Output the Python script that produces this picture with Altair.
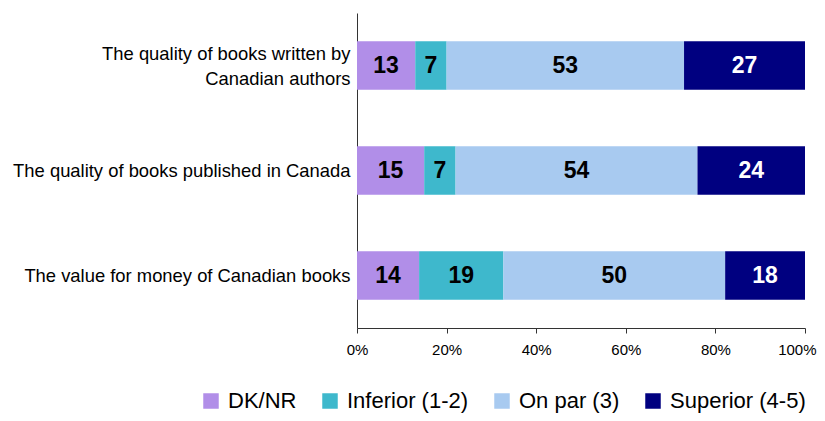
import altair as alt
import pandas as pd

categories = [
    "The quality of books written by Canadian authors",
    "The quality of books published in Canada",
    "The value for money of Canadian books",
]
series = ["DK/NR", "Inferior (1-2)", "On par (3)", "Superior (4-5)"]
colors = ["#B18EE8", "#3EB8CC", "#A8CAF0", "#000080"]
dk_nr = [13, 15, 14]
inferior = [7, 7, 19]
on_par = [53, 54, 50]
superior = [27, 24, 18]

rows = []
for i, cat in enumerate(categories):
    for j, (s, vals) in enumerate(zip(series, [dk_nr, inferior, on_par, superior])):
        rows.append({"category": cat, "series": s, "order": j, "value": vals[i]})
df = pd.DataFrame(rows)

base = alt.Chart(df).transform_stack(
    stack="value",
    groupby=["category"],
    as_=["v0", "v1"],
    sort=[alt.SortField("order", order="ascending")],
    offset="normalize",
).transform_calculate(mid="(datum.v0 + datum.v1) / 2")

y_enc = alt.Y(
    "category:N",
    sort=categories,
    title=None,
    scale=alt.Scale(paddingInner=0.54, paddingOuter=0.27),
    axis=alt.Axis(
        ticks=False,
        domain=True,
        domainColor="#333333",
        labelFont="Liberation Sans",
        labelFontSize=18.4,
        labelColor="#000000",
        labelPadding=7,
        labelLimit=400,
        labelLineHeight=25,
        labelOffset=alt.ExprRef(
            expr="datum.value == 'The quality of books written by Canadian authors' ? -12 : 0"
        ),
        labelExpr="datum.label == 'The quality of books written by Canadian authors' ? ['The quality of books written by', 'Canadian authors'] : datum.label",
    ),
)

bars = base.mark_bar().encode(
    y=y_enc,
    x=alt.X(
        "v0:Q",
        title=None,
        scale=alt.Scale(domain=[0, 1], nice=False),
        axis=alt.Axis(
            format="%",
            values=[0, 0.2, 0.4, 0.6, 0.8, 1.0],
            grid=False,
            domainColor="#333333",
            tickColor="#333333",
            tickSize=5,
            labelFont="Liberation Sans",
            labelFontSize=15,
            labelColor="#000000",
            labelPadding=9,
            labelFlush=False,
            labelAlign=alt.ExprRef(expr="datum.value >= 1 ? 'right' : 'center'"),
            labelOffset=alt.ExprRef(expr="datum.value >= 1 ? 11 : 0"),
        ),
    ),
    x2="v1:Q",
    color=alt.Color(
        "series:N",
        sort=series,
        scale=alt.Scale(domain=series, range=colors),
        legend=alt.Legend(
            title=None,
            orient="none",
            legendX=-157,
            legendY=377,
            direction="horizontal",
            symbolType="square",
            symbolSize=240,
            symbolStrokeWidth=0,
            labelFont="Liberation Sans",
            labelFontSize=22,
            labelColor="#000000",
            labelOffset=6,
            columnPadding=22,
            labelLimit=300,
        ),
    ),
    order=alt.Order("order:Q"),
)

labels = base.mark_text(
    font="Liberation Sans", fontSize=23, fontWeight="bold"
).encode(
    y=alt.Y("category:N", sort=categories),
    x=alt.X("mid:Q"),
    text=alt.Text("value:Q"),
    color=alt.condition(
        alt.datum.series == "Superior (4-5)", alt.value("#ffffff"), alt.value("#000000")
    ),
)

chart = (
    alt.layer(bars, labels)
    .properties(
        width=448,
        height=315,
        autosize=alt.AutoSizeParams(type="none"),
        padding={"left": 349, "top": 5, "right": 12, "bottom": 85},
    )
    .configure_view(stroke=None)
)

chart.save("out.html", embed_options={"renderer": "svg", "actions": False})
